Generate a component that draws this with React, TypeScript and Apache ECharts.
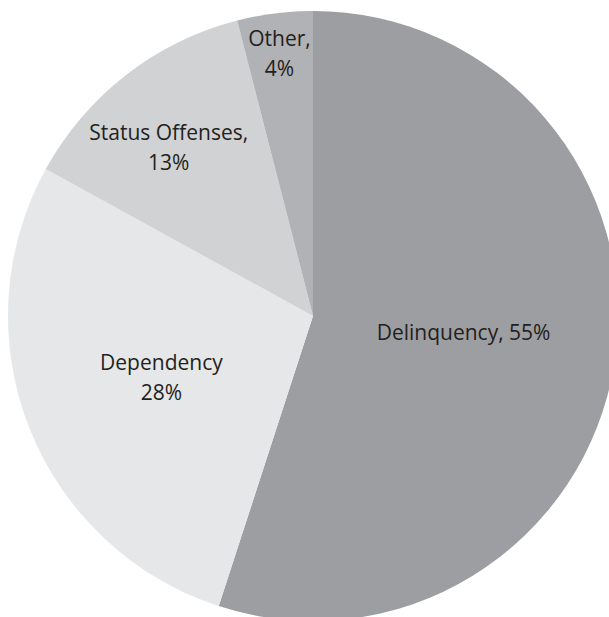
import React, { useEffect, useRef } from "react";
import * as echarts from "echarts";

const categories = ["Delinquency", "Dependency", "Status Offenses", "Other"];
const values = [55, 28, 13, 4];
const labelTexts = ["Delinquency, 55%", "Dependency\n28%", "Status Offenses,\n13%", "Other,\n4%"];
const colors = ["#9d9ea1", "#e6e7e8", "#d1d2d4", "#b1b2b5"];
const labelOffsets: number[][] = [[-3, -8], [-7, 4], [-49, -46], [-14, -109]];

export default function App() {
  const ref = useRef<HTMLDivElement>(null);
  useEffect(() => {
    if (!ref.current) return;
    const chart = echarts.init(ref.current, null, { renderer: "svg" });
    chart.setOption({
      animation: false,
      backgroundColor: "#ffffff",
      series: [
        {
          type: "pie",
          center: [313, 316],
          radius: [0, 305],
          startAngle: 90,
          clockwise: true,
          silent: true,
          itemStyle: { borderWidth: 0 },
          label: {
            show: true,
            position: "inside",
            fontFamily: "Open Sans",
            fontSize: 21,
            lineHeight: 30,
            color: "#231f20",
            align: "center",
          },
          labelLine: { show: false },
          data: categories.map((c, i) => ({
            name: c,
            value: values[i],
            itemStyle: { color: colors[i] },
            label: { formatter: labelTexts[i], offset: labelOffsets[i] },
          })),
        },
      ],
    });
    return () => chart.dispose();
  }, []);
  return (
    <div
      ref={ref}
      style={{ position: "absolute", left: 0, top: 0, width: 609, height: 617 }}
    />
  );
}
